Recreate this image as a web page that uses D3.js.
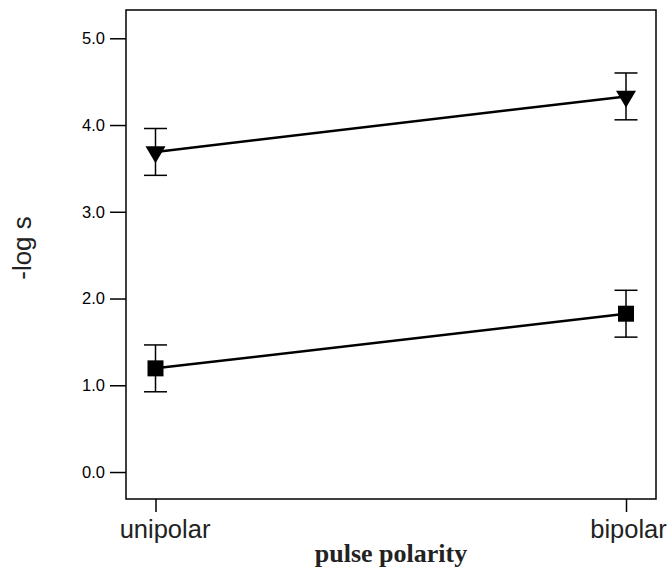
<!DOCTYPE html>
<html>
<head>
<meta charset="utf-8">
<script src="https://cdn.jsdelivr.net/npm/d3@7"></script>
<style>
  html, body { margin: 0; padding: 0; background: #fff; }
  svg { display: block; }
</style>
</head>
<body>
<svg id="chart" width="672" height="570"></svg>
<script>
// Categories on the x axis
const categories = ["unipolar", "bipolar"];

// -log s means and error half-widths for the two stimulus series
const triangleValues = [3.69, 4.33];
const triangleErrors = [0.27, 0.27];
const squareValues = [1.195, 1.825];
const squareErrors = [0.27, 0.27];

// y tick values
const yTicks = [0, 1, 2, 3, 4, 5];

const plot = { left: 126, right: 656, top: 10, bottom: 499 };

const svg = d3.select("#chart");

const x = d3.scalePoint()
  .domain(categories)
  .range([155.5, 626]);

const y = d3.scaleLinear()
  .domain([-0.311, 5.326])
  .range([plot.bottom, plot.top]);

// plot frame
svg.append("rect")
  .attr("x", plot.left)
  .attr("y", plot.top)
  .attr("width", plot.right - plot.left)
  .attr("height", plot.bottom - plot.top)
  .attr("fill", "none")
  .attr("stroke", "#000")
  .attr("stroke-width", 1.5);

// y axis
const yAxis = svg.append("g")
  .attr("transform", `translate(${plot.left},0)`)
  .call(d3.axisLeft(y).tickValues(yTicks).tickFormat(d3.format(".1f")).tickSize(16).tickSizeOuter(0).tickPadding(5));
yAxis.select(".domain").remove();
yAxis.selectAll(".tick line").attr("stroke", "#000").attr("stroke-width", 1.5);
yAxis.selectAll(".tick text")
  .attr("font-family", "Arial, 'Liberation Sans', sans-serif")
  .attr("font-size", 16.5)
  .attr("fill", "#000");

// x axis
const xAxis = svg.append("g")
  .attr("transform", `translate(0,${plot.bottom})`)
  .call(d3.axisBottom(x).tickSize(13).tickSizeOuter(0).tickPadding(8));
xAxis.select(".domain").remove();
xAxis.selectAll(".tick line").attr("stroke", "#000").attr("stroke-width", 1.5);
xAxis.selectAll(".tick text")
  .attr("font-family", "Arial, 'Liberation Sans', sans-serif")
  .attr("font-size", 25.5)
  .attr("fill", "#222")
  .attr("dx", (d, i) => i === 0 ? 9 : 2);

// axis titles
svg.append("text")
  .attr("x", (plot.left + plot.right) / 2)
  .attr("y", 562)
  .attr("text-anchor", "middle")
  .attr("font-family", "'Liberation Serif', 'Times New Roman', serif")
  .attr("font-weight", "bold")
  .attr("font-size", 26)
  .attr("fill", "#222")
  .text("pulse polarity");

svg.append("text")
  .attr("transform", `translate(31,248) rotate(-90)`)
  .attr("text-anchor", "middle")
  .attr("font-family", "Arial, 'Liberation Sans', sans-serif")
  .attr("font-size", 26)
  .attr("fill", "#222")
  .text("-log s");

function drawSeries(values, errors, marker) {
  const pts = categories.map((c, i) => ({ c, v: values[i], e: errors[i] }));
  const g = svg.append("g");

  // error bars with caps
  const capHalf = 11.5;
  pts.forEach(p => {
    const cx = x(p.c);
    g.append("line")
      .attr("x1", cx).attr("x2", cx)
      .attr("y1", y(p.v + p.e)).attr("y2", y(p.v - p.e))
      .attr("stroke", "#000").attr("stroke-width", 1.5);
    [p.v + p.e, p.v - p.e].forEach(vv => {
      g.append("line")
        .attr("x1", cx - capHalf).attr("x2", cx + capHalf)
        .attr("y1", y(vv)).attr("y2", y(vv))
        .attr("stroke", "#000").attr("stroke-width", 1.5);
    });
  });

  // connecting line
  g.append("path")
    .datum(pts)
    .attr("d", d3.line().x(p => x(p.c)).y(p => y(p.v)))
    .attr("fill", "none")
    .attr("stroke", "#000")
    .attr("stroke-width", 2.5);

  // markers
  pts.forEach(p => {
    const cx = x(p.c), cy = y(p.v);
    if (marker === "triangle") {
      const hw = 10, h = 17;
      const top = cy - h / 3, bot = cy + 2 * h / 3;
      g.append("path")
        .attr("d", `M${cx - hw},${top}L${cx + hw},${top}L${cx},${bot}Z`)
        .attr("fill", "#000");
    } else {
      const s = 16;
      g.append("rect")
        .attr("x", cx - s / 2).attr("y", cy - s / 2)
        .attr("width", s).attr("height", s)
        .attr("fill", "#000");
    }
  });
}

drawSeries(triangleValues, triangleErrors, "triangle");
drawSeries(squareValues, squareErrors, "square");
</script>
</body>
</html>
